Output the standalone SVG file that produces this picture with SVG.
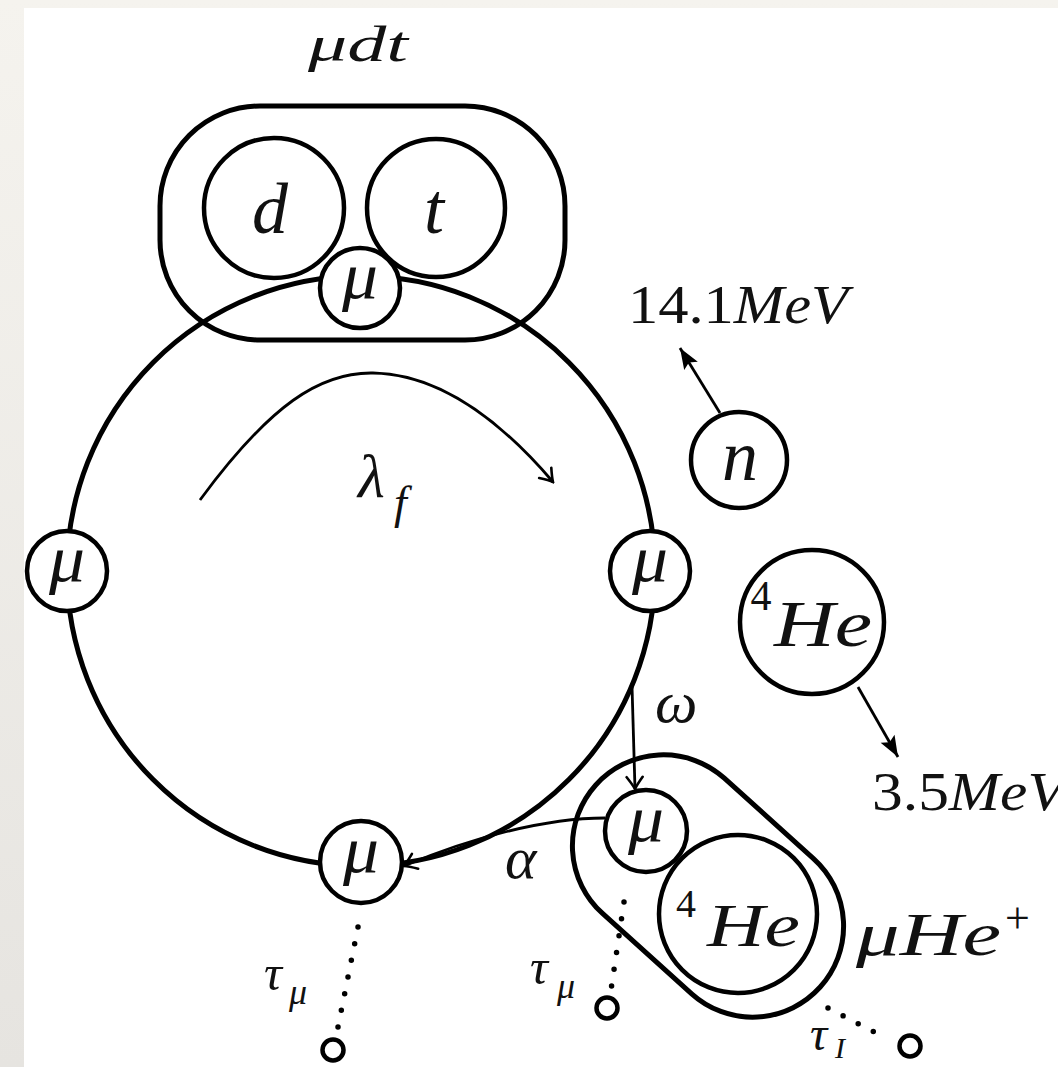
<svg xmlns="http://www.w3.org/2000/svg" width="1058" height="1067" viewBox="0 0 1058 1067">
<defs>
<linearGradient id="bg" x1="0" y1="0" x2="0" y2="1">
<stop offset="0" stop-color="#f5f3ee"/>
<stop offset="1" stop-color="#e6e4e0"/>
</linearGradient>
<marker id="open" viewBox="-14 -10 16 20" markerWidth="16" markerHeight="20" refX="0" refY="0" orient="auto" markerUnits="userSpaceOnUse">
<path d="M-12,-8 Q-4,-2 0,0 Q-4,2 -12,8" fill="none" stroke="#000" stroke-width="2.6" stroke-linecap="round"/>
</marker>
<marker id="solid" viewBox="-22 -10 24 20" markerWidth="24" markerHeight="20" refX="0" refY="0" orient="auto" markerUnits="userSpaceOnUse">
<path d="M0,0 L-21,-8 L-17,0 L-21,8 Z" fill="#000"/>
</marker>
</defs>
<style>
.ln{fill:none;stroke:#000;stroke-width:5}
.nd{fill:#fff;stroke:#000;stroke-width:4.5}
.ar{fill:none;stroke:#000;stroke-width:2.8}
.dot{fill:none;stroke:#000;stroke-width:5.5;stroke-linecap:round;stroke-dasharray:0 17}
.end{fill:#fff;stroke:#000;stroke-width:4.5}
.t{font-family:"Liberation Serif","Times New Roman",serif;font-style:italic;fill:#111}
.u{font-style:normal}
.mu{font-size:66px;text-anchor:middle}
</style>
<rect x="0" y="0" width="1058" height="1067" fill="url(#bg)"/>
<rect x="24" y="8" width="1034" height="1059" fill="#fff"/>

<g id="mudt">
<rect class="ln" x="160" y="106" width="405" height="234" rx="100" ry="100"/>
<text class="t" x="358" y="61" font-size="50" text-anchor="middle" textLength="100" lengthAdjust="spacingAndGlyphs">μdt</text>
</g>
<g id="cycle">
<ellipse class="ln" cx="361" cy="571" rx="294" ry="295"/>
</g>
<g id="d">
<circle class="nd" cx="274" cy="208" r="70"/>
<text class="t" x="270" y="233" font-size="72" text-anchor="middle">d</text>
</g>
<g id="t">
<circle class="nd" cx="436" cy="208" r="69"/>
<text class="t" x="434" y="233" font-size="72" text-anchor="middle">t</text>
</g>
<g id="mu-top">
<circle class="nd" cx="360" cy="288" r="40"/>
<text class="t mu" x="360" y="298" textLength="36" lengthAdjust="spacingAndGlyphs">μ</text>
</g>
<g id="mu-left">
<circle class="nd" cx="67" cy="571" r="40"/>
<text class="t mu" x="67" y="581" textLength="36" lengthAdjust="spacingAndGlyphs">μ</text>
</g>
<g id="mu-right">
<circle class="nd" cx="650" cy="571" r="40"/>
<text class="t mu" x="650" y="581" textLength="36" lengthAdjust="spacingAndGlyphs">μ</text>
</g>
<g id="mu-bottom">
<circle class="nd" cx="361" cy="862" r="41"/>
<text class="t mu" x="361" y="872" textLength="36" lengthAdjust="spacingAndGlyphs">μ</text>
</g>
<g id="n">
<circle class="nd" cx="739" cy="460" r="48"/>
<text class="t" x="740" y="480" font-size="72" text-anchor="middle">n</text>
</g>
<g id="he4">
<circle class="nd" cx="812" cy="622" r="72"/>
<text class="t u" x="761" y="610" font-size="42" text-anchor="middle">4</text>
<text class="t" x="774" y="646" font-size="66" textLength="98" lengthAdjust="spacingAndGlyphs">He</text>
</g>
<g id="muHe">
<rect class="ln" x="-151" y="-91" width="302" height="182" rx="91" ry="91" transform="translate(708,886) rotate(42)"/>
<circle class="nd" cx="646" cy="831" r="41"/>
<text class="t mu" x="646" y="841" textLength="36" lengthAdjust="spacingAndGlyphs">μ</text>
<circle class="nd" cx="738" cy="914" r="79"/>
<text class="t u" x="686" y="917" font-size="40" text-anchor="middle">4</text>
<text class="t" x="707" y="946" font-size="62" textLength="93" lengthAdjust="spacingAndGlyphs">He</text>
<text class="t" x="856" y="955" font-size="62" textLength="145" lengthAdjust="spacingAndGlyphs">μHe</text>
<text class="t u" x="1005" y="933" font-size="44">+</text>
</g>
<g id="ends">
<circle class="end" cx="333" cy="1050" r="10.5"/>
<circle class="end" cx="607" cy="1008" r="10.5"/>
<circle class="end" cx="910" cy="1046" r="10.5"/>
</g>

<g id="connectors">
<path class="ar" d="M200,500 C270,405 320,372 373,373 C440,374 500,420 553,482" marker-end="url(#open)"/>
<path class="ar" d="M632,686 C633,720 634,755 635,789" marker-end="url(#open)"/>
<path class="ar" d="M605,818 C545,818 470,838 404,866" marker-end="url(#open)"/>
<path class="ar" d="M720,413 L680,348" marker-end="url(#solid)"/>
<path class="ar" d="M858,687 L898,757" marker-end="url(#solid)"/>
<path class="dot" d="M358,927 L337,1032"/>
<path class="dot" d="M624,902 L611,990"/>
<path class="dot" d="M828,1008 L882,1036"/>
</g>

<g id="labels">
<text class="t" x="358" y="497" font-size="62">λ</text>
<text class="t" x="394" y="518" font-size="46">f</text>
<text class="t" x="628" y="323" font-size="54" textLength="220" lengthAdjust="spacingAndGlyphs"><tspan class="u">14.1</tspan>MeV</text>
<text class="t" x="872" y="810" font-size="54" textLength="193" lengthAdjust="spacingAndGlyphs"><tspan class="u">3.5</tspan>MeV</text>
<text class="t" x="655" y="722" font-size="60">ω</text>
<text class="t" x="505" y="878" font-size="60">α</text>
<text class="t" x="264" y="990" font-size="50">τ</text>
<text class="t" x="289" y="1004" font-size="36">μ</text>
<text class="t" x="530" y="984" font-size="50">τ</text>
<text class="t" x="557" y="998" font-size="36">μ</text>
<text class="t" x="810" y="1050" font-size="48">τ</text>
<text class="t" x="835" y="1058" font-size="30">I</text>
</g>
</svg>
